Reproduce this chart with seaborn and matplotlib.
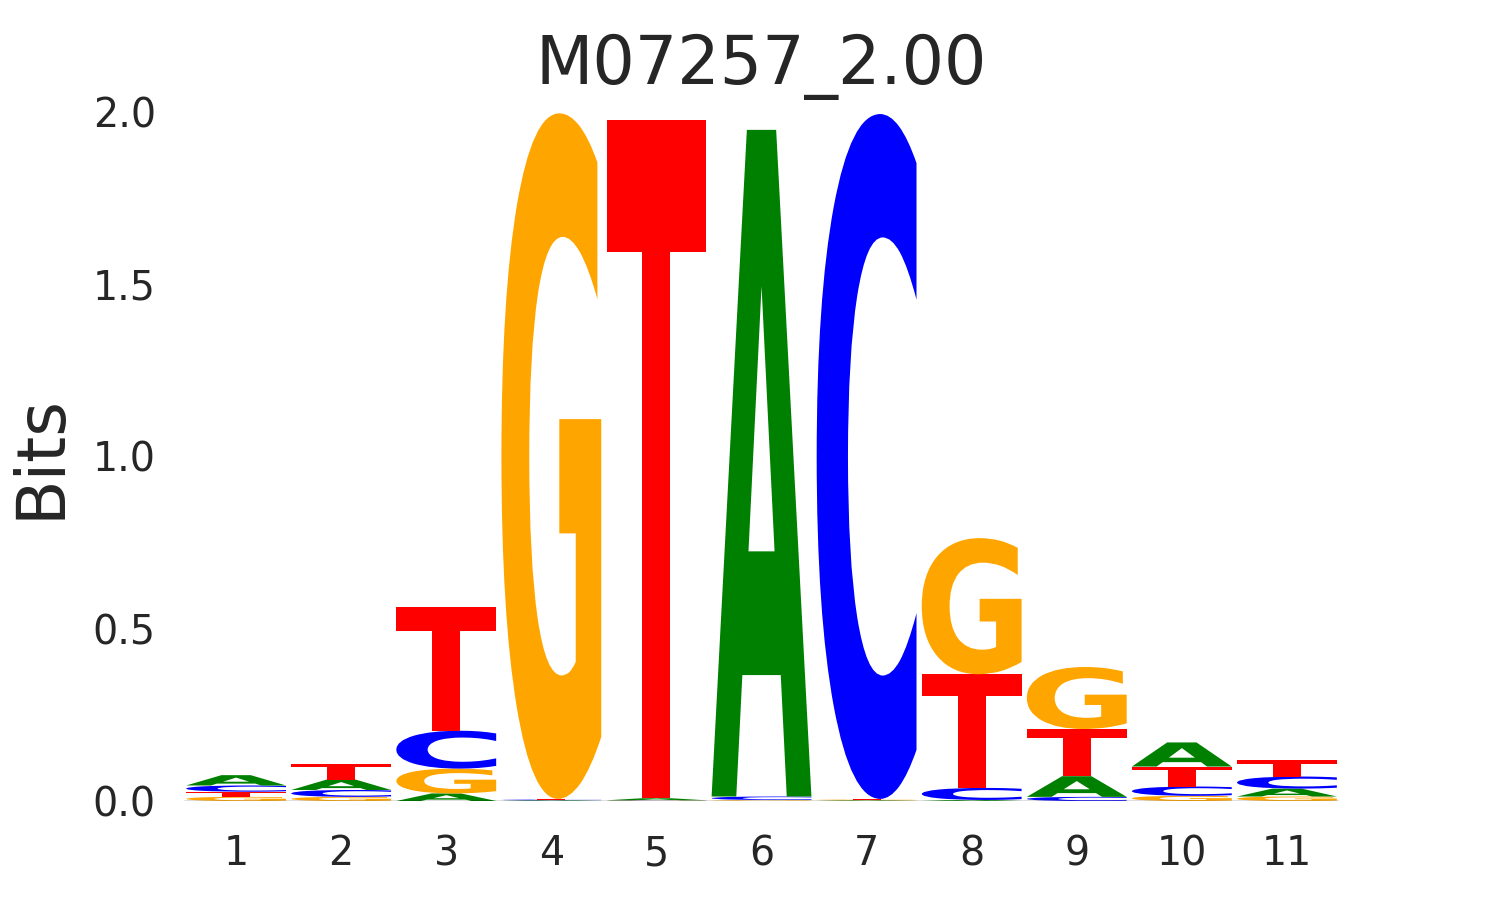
import numpy as np
import pandas as pd
import seaborn as sns
import matplotlib
matplotlib.use("Agg")
import matplotlib.pyplot as plt
from matplotlib.textpath import TextPath
from matplotlib.patches import PathPatch
from matplotlib.font_manager import FontProperties
from matplotlib.transforms import Affine2D

TITLE = "M07257_2.00"
POSITIONS = list(range(1, 12))

# information content (bits) per letter
A = [0.030, 0.030, 0.022, 0.002, 0.006, 1.935, 0.002, 0.003, 0.060, 0.070, 0.023]
C = [0.018, 0.020, 0.110, 0.002, 0.001, 0.010, 1.988, 0.035, 0.012, 0.027, 0.035]
G = [0.012, 0.012, 0.072, 1.990, 0.001, 0.002, 0.002, 0.395, 0.180, 0.015, 0.013]
T = [0.015, 0.044, 0.360, 0.002, 1.970, 0.001, 0.002, 0.330, 0.137, 0.058, 0.047]

COLORS = {"A": "green", "C": "blue", "G": "orange", "T": "red"}
Y_TICKS = [0.0, 0.5, 1.0, 1.5, 2.0]

sns.set_theme(style="white")
plt.rcParams["font.family"] = ["DejaVu Sans"]

GLYPH_FONT = FontProperties(family="DejaVu Sans", weight="bold")


def draw_glyph(ax, letter, x, floor, height, width=0.95):
    path = TextPath((0, 0), letter, size=1, prop=GLYPH_FONT)
    ext = path.get_extents()
    tf = (Affine2D()
          .translate(-ext.x0, -ext.y0)
          .scale(width / ext.width, height / ext.height)
          .translate(x - width / 2, floor))
    patch = PathPatch(tf.transform_path(path), facecolor=COLORS[letter],
                      edgecolor="none", lw=0, clip_on=False)
    ax.add_patch(patch)


def draw_logo(ax, df):
    for pos, row in df.iterrows():
        floor = 0.0
        # smallest letters at the bottom, biggest on top
        for letter, h in row.sort_values().items():
            if h <= 0:
                continue
            draw_glyph(ax, letter, pos, floor, h)
            floor += h


def main():
    df = pd.DataFrame({"A": A, "C": C, "G": G, "T": T}, index=POSITIONS)

    fig = plt.figure(figsize=(14.85, 9), dpi=100)
    ax = fig.add_axes([0.1236, 0.11, 0.7784, 0.7656])

    draw_logo(ax, df)
    ax.axhline(0, color="black", lw=0.9, zorder=3)

    ax.set_xlim(0.5, 11.5)
    ax.set_ylim(0, 2.0)
    ax.set_xticks(POSITIONS)
    ax.set_xticklabels([str(p) for p in POSITIONS])
    ax.set_yticks(Y_TICKS)
    ax.set_yticklabels(["%.1f" % v for v in Y_TICKS])
    ax.tick_params(axis="x", labelsize=28.5, pad=24, length=0)
    ax.tick_params(axis="y", labelsize=28.5, pad=20, length=0)

    ax.set_ylabel("Bits", fontsize=48)
    ax.yaxis.set_label_coords(-0.095, 0.5)
    ax.set_title(TITLE, fontsize=48, pad=20)
    sns.despine(ax=ax, left=True, bottom=True)

    fig.savefig("out.png", dpi=100)


if __name__ == "__main__":
    main()
